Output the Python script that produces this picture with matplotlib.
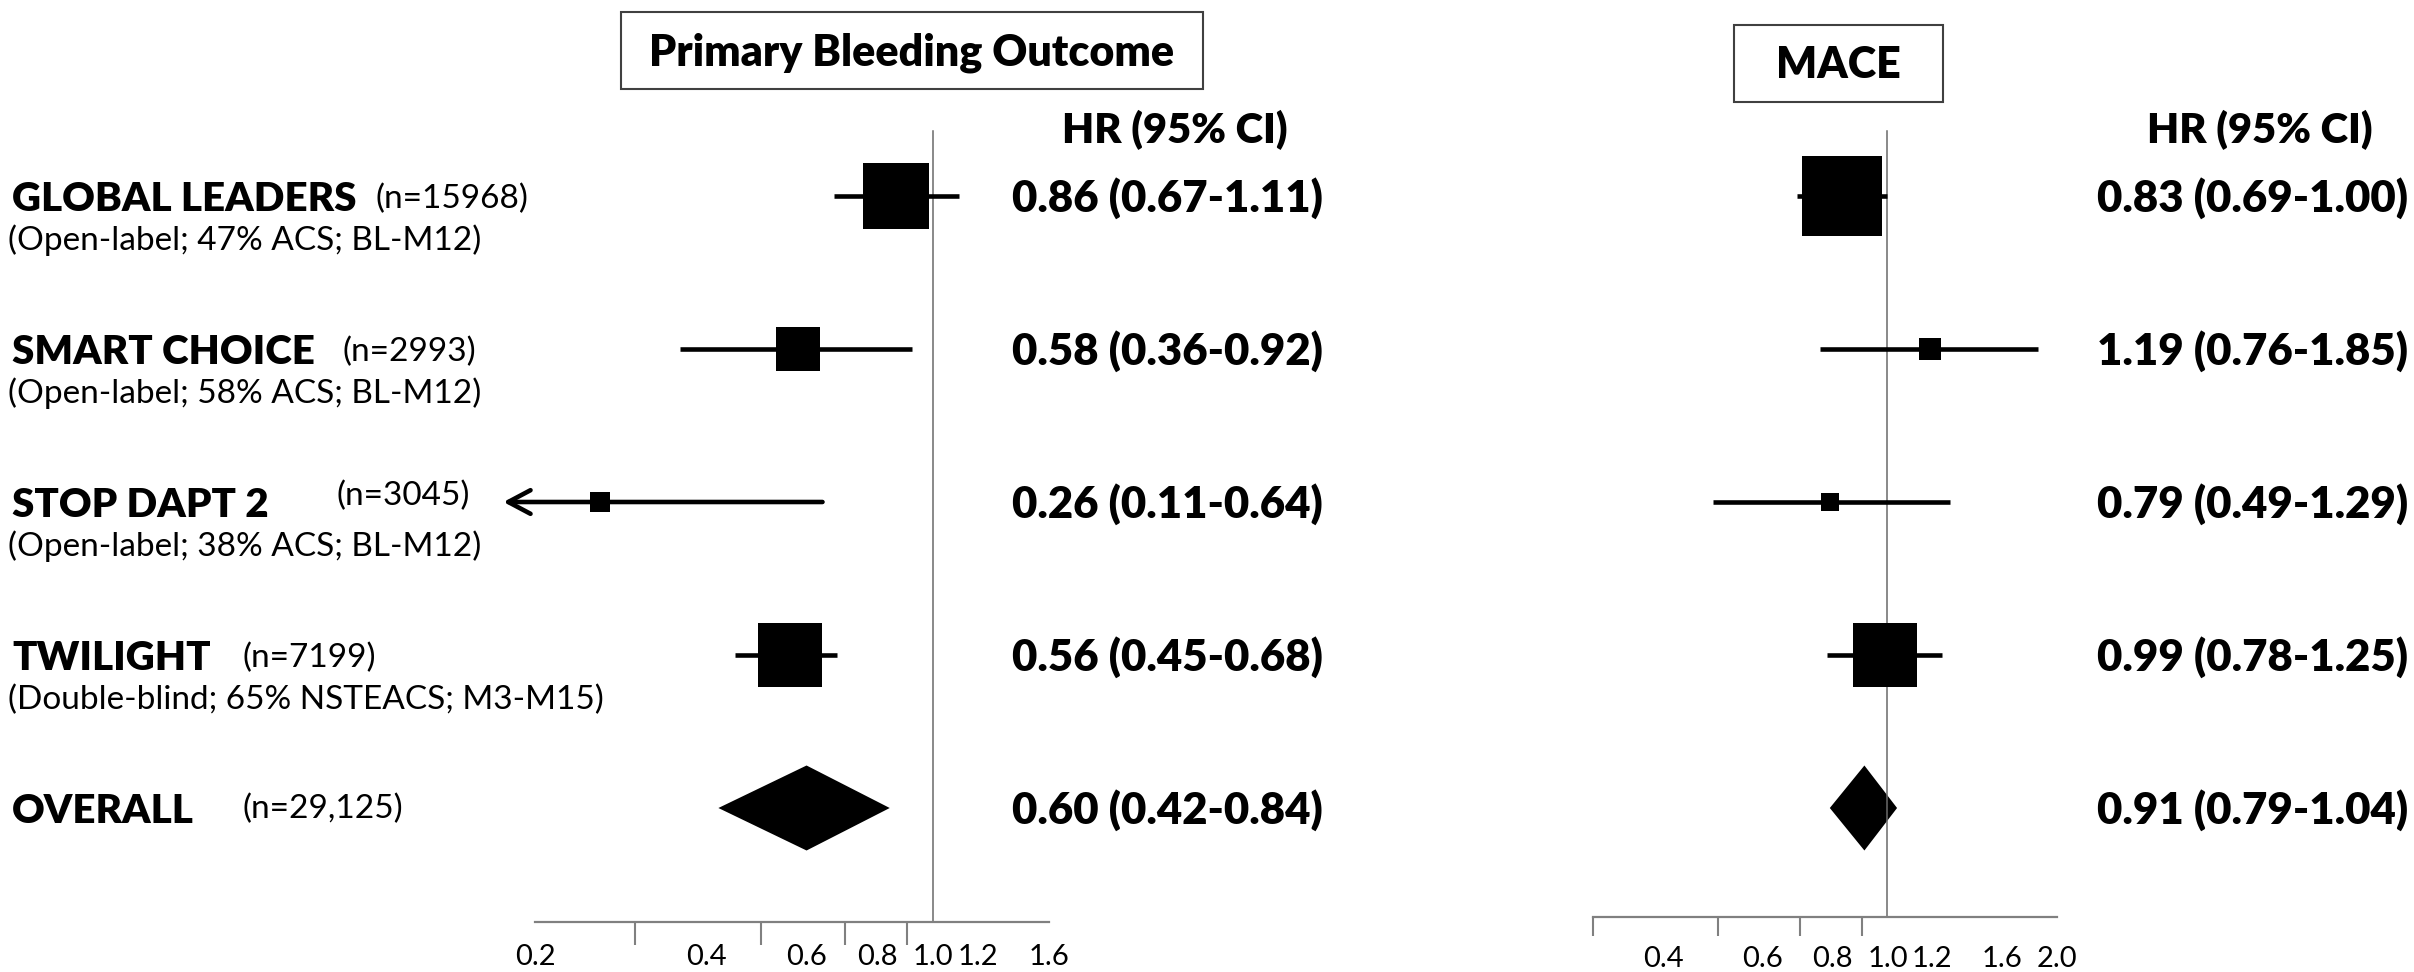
import matplotlib
matplotlib.use("Agg")
import matplotlib.pyplot as plt
from matplotlib.patches import Polygon, Rectangle
from matplotlib.ticker import FixedLocator, FixedFormatter, NullFormatter

# data
trials = ["GLOBAL LEADERS", "SMART CHOICE", "STOP DAPT 2", "TWILIGHT", "OVERALL"]
n_labels = ["(n=15968)", "(n=2993)", "(n=3045)", "(n=7199)", "(n=29,125)"]
designs = ["(Open-label; 47% ACS; BL-M12)", "(Open-label; 58% ACS; BL-M12)",
           "(Open-label; 38% ACS; BL-M12)", "(Double-blind; 65% NSTEACS; M3-M15)", ""]

bleed_hr = [0.86, 0.58, 0.26, 0.56, 0.60]
bleed_lo = [0.67, 0.36, 0.11, 0.45, 0.42]
bleed_hi = [1.11, 0.92, 0.64, 0.68, 0.84]

mace_hr = [0.83, 1.19, 0.79, 0.99, 0.91]
mace_lo = [0.69, 0.76, 0.49, 0.78, 0.79]
mace_hi = [1.00, 1.85, 1.29, 1.25, 1.04]

bleed_ticks = [0.2, 0.3, 0.4, 0.5, 0.6, 0.7, 0.8, 0.9, 1.2, 1.6]
bleed_ticklabels = [0.2, 0.4, 0.6, 0.8, 1.0, 1.2, 1.6]
mace_ticks = [0.3, 0.4, 0.5, 0.6, 0.7, 0.8, 0.9, 1.2, 1.6, 2.0]
mace_ticklabels = [0.4, 0.6, 0.8, 1.0, 1.2, 1.6, 2.0]

plt.rcParams["font.family"] = "Lato"
BOLD = "heavy"

W, H = 2414, 972
ROW0, STEP = 196, 153   # pixel row of first trial, row spacing
fig = plt.figure(figsize=(W / 100, H / 100), dpi=100)


def fx(x):
    return x / W


def fy(y):
    return 1 - y / H


def panel(x0, x1, ybot, xlim, hr, lo, hi, sizes, ticks, labels, tlen, pad):
    ax = fig.add_axes([fx(x0), fy(ybot), (x1 - x0) / W, ybot / H])
    ax.set_xscale("log")
    ax.set_xlim(xlim)
    ax.set_ylim((ybot - ROW0) / STEP, -ROW0 / STEP)
    ax.patch.set_alpha(0)
    for s in ["top", "left", "right"]:
        ax.spines[s].set_visible(False)
    ax.spines["bottom"].set_color("#808080")
    ax.spines["bottom"].set_linewidth(1.6)
    ax.yaxis.set_visible(False)
    ax.xaxis.set_major_locator(FixedLocator(labels))
    ax.xaxis.set_major_formatter(FixedFormatter([f"{v:.1f}" for v in labels]))
    ax.xaxis.set_minor_locator(FixedLocator(ticks))
    ax.xaxis.set_minor_formatter(NullFormatter())
    ax.tick_params(axis="x", which="major", length=0, pad=pad, labelsize=21)
    ax.tick_params(axis="x", which="minor", length=tlen, width=1.5, color="#808080")

    ax.axvline(1.0, ymin=0, ymax=(ybot - 131) / ybot, color="#6a6a6a", lw=1.1)

    for i in range(len(hr) - 1):
        if lo[i] < xlim[0]:
            tip = xlim[0] * 0.88
            ax.annotate("", xy=(tip, i), xytext=(hi[i], i), annotation_clip=False,
                        arrowprops=dict(arrowstyle="->,head_length=1.6,head_width=0.85",
                                        lw=3.3, color="black", shrinkA=0, shrinkB=0))
        else:
            ax.hlines(i, lo[i], hi[i], color="black", lw=3.3)
        ax.plot(hr[i], i, marker="s", ms=sizes[i], mew=0, color="black")

    k = len(hr) - 1
    h = 42.5 / STEP
    ax.add_patch(Polygon([(lo[k], k), (hr[k], k - h), (hi[k], k), (hr[k], k + h)],
                         closed=True, color="black", lw=0))
    return ax


panel(535, 1049, 922, (0.2, 1.6), bleed_hr, bleed_lo, bleed_hi,
      [47.5, 31.7, 15.1, 46], bleed_ticks, bleed_ticklabels, 16.5, 16)
panel(1593, 2057, 917, (0.3, 2.0), mace_hr, mace_lo, mace_hi,
      [57.6, 15.8, 13, 46], mace_ticks, mace_ticklabels, 14, 21)

# left-hand labels
n_x = [375, 343, 337, 242, 242]
n_dy = [12, 12, 3, 12, 10]
for i, name in enumerate(trials):
    y = ROW0 + STEP * i
    fig.text(fx(12), fy(y + 15), name, fontsize=29, fontweight=BOLD, va="baseline")
    fig.text(fx(n_x[i]), fy(y + n_dy[i]), n_labels[i], fontsize=24, va="baseline")
    if designs[i]:
        fig.text(fx(8), fy(y + 54), designs[i], fontsize=24, va="baseline")

# HR text columns
for xs, hr, lo, hi in [(1012, bleed_hr, bleed_lo, bleed_hi), (2097, mace_hr, mace_lo, mace_hi)]:
    fig.text(fx(xs + 50), fy(143), "HR (95% CI)", fontsize=30, fontweight=BOLD, va="baseline")
    for i in range(len(hr)):
        y = ROW0 + STEP * i
        fig.text(fx(xs), fy(y + 16), f"{hr[i]:.2f} ({lo[i]:.2f}-{hi[i]:.2f})",
                 fontsize=31.5, fontweight=BOLD, va="baseline")

# boxed panel titles
for (bx0, bx1, by0, by1), title in [((621, 1203, 12, 89), "Primary Bleeding Outcome"),
                                     ((1734, 1943, 25, 102), "MACE")]:
    fig.add_artist(Rectangle((fx(bx0), fy(by1)), (bx1 - bx0) / W, (by1 - by0) / H,
                             transform=fig.transFigure, fill=False, ec="#404040", lw=1.5))
    fig.text(fx((bx0 + bx1) / 2), fy((by0 + by1) / 2 + 15), title, fontsize=31,
             fontweight=BOLD, ha="center", va="baseline")

fig.savefig("out.png", dpi=100)
